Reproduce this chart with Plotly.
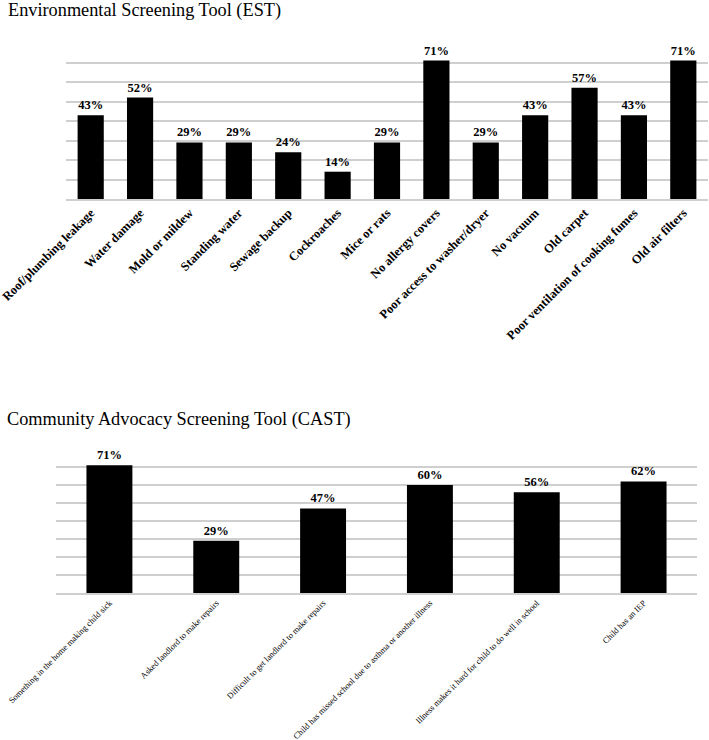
import plotly.graph_objects as go

est_categories = ["Roof/plumbing leakage", "Water damage", "Mold or mildew", "Standing water",
                  "Sewage backup", "Cockroaches", "Mice or rats", "No allergy covers",
                  "Poor access to washer/dryer", "No vacuum", "Old carpet",
                  "Poor ventilation of cooking fumes", "Old air filters"]
est_values = [43, 52, 29, 29, 24, 14, 29, 71, 29, 43, 57, 43, 71]

cast_categories = ["Something in the home making child sick", "Asked landlord to make repairs",
                   "Difficult to get landlord to make repairs",
                   "Child has missed school due to asthma or another illness",
                   "Illness makes it hard for child to do well in school", "Child has an IEP"]
cast_values = [71, 29, 47, 60, 56, 62]

W, H = 709, 740
SERIF = "Liberation Serif"
GRID = "#cfcfcf"

fig = go.Figure()
fig.add_trace(go.Bar(x=est_categories, y=est_values, xaxis="x", yaxis="y",
                     marker=dict(color="black", line=dict(width=0)),
                     text=[f"{v}%" for v in est_values], textposition="outside",
                     textfont=dict(family=SERIF, size=12.5, color="black", weight="bold"),
                     cliponaxis=False, width=0.53))
fig.add_trace(go.Bar(x=cast_categories, y=cast_values, xaxis="x2", yaxis="y2",
                     marker=dict(color="black", line=dict(width=0)),
                     text=[f"{v}%" for v in cast_values], textposition="outside",
                     textfont=dict(family=SERIF, size=12.5, color="black", weight="bold"),
                     cliponaxis=False, width=0.43))

def px_x(a, b):
    return [a / W, b / W]

def px_y(top, bottom):
    return [(H - bottom) / H, (H - top) / H]

fig.update_layout(
    width=W, height=H, margin=dict(l=0, r=0, t=0, b=0, autoexpand=False),
    paper_bgcolor="white", plot_bgcolor="white", showlegend=False,
    font=dict(family=SERIF, color="black"),
    xaxis=dict(domain=px_x(66, 708), anchor="y", tickangle=-45, showgrid=False,
               automargin=False,
               showline=True, linecolor=GRID, linewidth=1.5, ticks="",
               tickfont=dict(family=SERIF, size=12.5, color="black", weight="bold")),
    yaxis=dict(domain=px_y(43, 199), anchor="x", range=[0, 80], dtick=10,
               automargin=False,
               showticklabels=False, showgrid=True, gridcolor=GRID, gridwidth=1.5,
               zeroline=False, ticks=""),
    xaxis2=dict(domain=px_x(56, 697), anchor="y2", tickangle=-45, showgrid=False,
                automargin=False,
                showline=True, linecolor=GRID, linewidth=1.5, ticks="",
                tickfont=dict(family=SERIF, size=8.5, color="black")),
    yaxis2=dict(domain=px_y(449, 593), anchor="x2", range=[0, 80], dtick=10,
                automargin=False,
                showticklabels=False, showgrid=True, gridcolor=GRID, gridwidth=1.5,
                zeroline=False, ticks=""),
)

fig.add_annotation(text="Environmental Screening Tool (EST)", xref="paper", yref="paper",
                   x=6 / W, y=(H - 11) / H, xanchor="left", yanchor="middle", showarrow=False,
                   font=dict(family=SERIF, size=18.3, color="black"))
fig.add_annotation(text="Community Advocacy Screening Tool (CAST)", xref="paper", yref="paper",
                   x=5 / W, y=(H - 419) / H, xanchor="left", yanchor="middle", showarrow=False,
                   font=dict(family=SERIF, size=18.3, color="black"))

fig.write_html("out.html")
